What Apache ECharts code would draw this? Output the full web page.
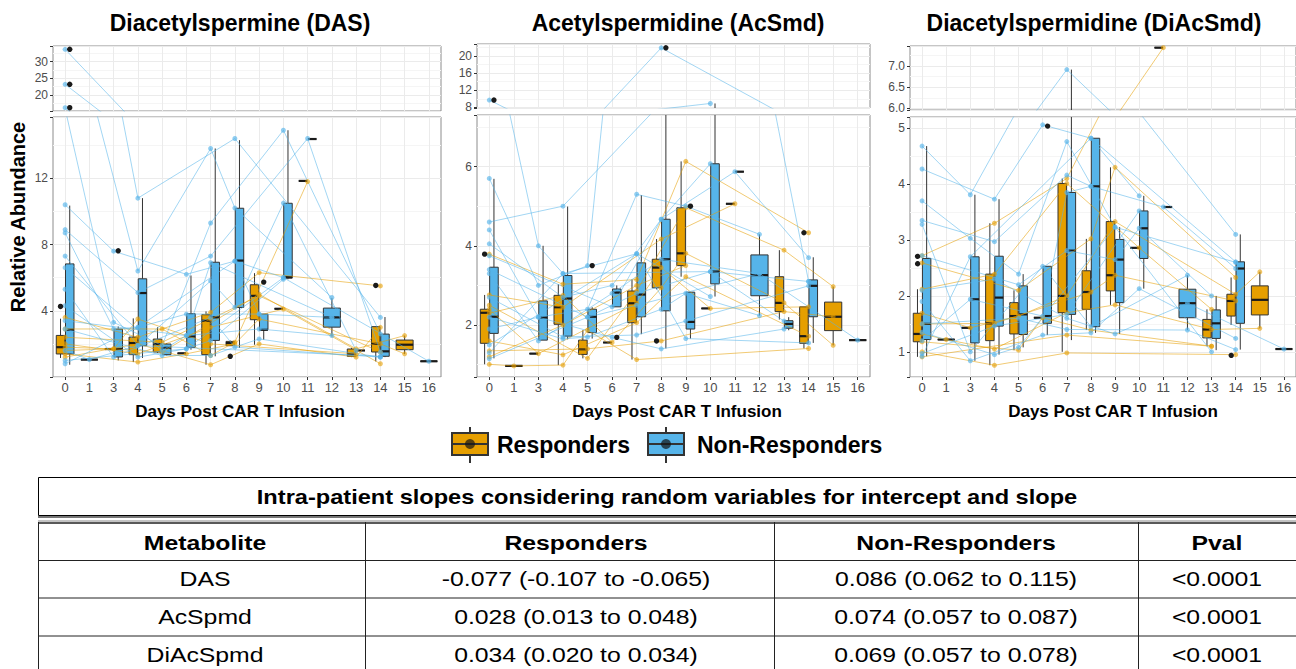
<!DOCTYPE html>
<html><head><meta charset="utf-8">
<script src="https://cdn.jsdelivr.net/npm/echarts@6/dist/echarts.min.js"></script>
<style>html,body{margin:0;padding:0;background:#fff}#c{width:1296px;height:669px}</style>
</head><body><div id="c"></div>
<script>
// ---------------- DATA ----------------
const days = ['0','1','3','4','5','6','7','8','9','10','11','12','13','14','15','16'];

// box stats: [day, min, q1, median, q3, max]  (single value: [day, v])
const dasRespBox = [
 [0,1.15,1.39,1.8,2.51,3.52],[3,1.69],[4,0.9,1.35,2.05,2.41,3.54],[5,1.45,1.51,1.99,2.29,3.0],[6,1.43],
 [7,0.74,1.35,3.4,3.76,3.96],[8,1.89,1.89,2.05,2.15,2.2],[9,1.95,3.46,4.9,5.57,6.27],[10,4.12],[11,11.84],
 [13,1.2,1.25,1.39,1.69,1.75],[14,0.94,1.51,2.01,3.04,3.04],[15,1.39,1.65,1.95,2.23,2.49]];
const dasNonBox = [
 [0,0.74,1.39,2.85,6.83,10.35],[1,1.05],[3,1.0,1.21,1.69,2.89,3.05],[4,1.15,1.89,5.07,5.93,10.8],
 [5,1.3,1.35,1.77,1.99,2.05],[6,1.65,1.79,2.45,3.82,6.13],[7,1.25,2.21,3.6,6.93,13.8],[8,1.75,4.2,7.03,10.19,14.3],
 [9,2.25,2.85,2.85,3.8,3.8],[10,5.9,5.97,6.03,10.49,14.9],[11,14.37],[12,2.45,3.01,3.6,4.16,4.76],[13,1.6],
 [14,1.2,1.25,1.55,2.59,3.62],[16,0.95]];
const dasRespOut = [[0,4.26],[8,1.25],[14,5.53]];
const dasNonOut = [[0,33.7],[0,23.2],[0,16.2],[3,7.62],[9,5.73]];
const dasRespPatients = [
 [[0,3.6],[4,2.4],[7,3.9],[9,6.3],[14,5.5]],
 [[0,2.9],[5,2.9],[7,1.3],[8,2.1],[11,11.8]],
 [[0,2.0],[4,1.4],[7,3.0],[10,4.1],[14,0.8]],
 [[0,1.6],[3,1.7],[5,1.5],[9,5.0],[13,1.7],[15,2.5]],
 [[0,1.4],[4,0.9],[6,1.4],[8,2.0],[9,3.5],[14,2.0],[15,1.4]],
 [[0,1.2],[4,2.0],[7,0.74],[9,2.0],[13,1.2],[14,3.0]],
 [[0,2.4],[5,2.1],[7,3.5],[9,4.9],[14,1.5]],
 [[0,1.8],[3,1.7],[4,3.5],[7,2.0],[13,1.4]]];
const dasNonPatients = [
 [[0,33.7],[4,10.8],[8,14.4],[14,3.6]],
 [[0,23.2],[4,6.4],[7,13.8],[8,10.2],[12,4.8]],
 [[0,16.2],[3,3.3],[5,1.9],[7,9.3],[10,14.9],[14,2.6]],
 [[0,10.4],[3,7.6],[6,6.2],[8,7.0],[10,6.0],[16,0.95]],
 [[0,8.9],[4,5.1],[7,7.3],[11,14.4],[14,1.5]],
 [[0,8.7],[3,2.9],[4,3.0],[6,3.8],[9,3.8],[12,3.6]],
 [[0,7.3],[4,1.9],[7,5.8],[8,4.2],[10,10.5],[13,1.6]],
 [[0,6.6],[5,1.6],[6,2.5],[9,2.9],[12,2.5]],
 [[0,5.3],[3,1.2],[7,3.6],[8,1.8],[14,1.2]],
 [[0,4.3],[4,1.2],[6,1.7],[7,2.2],[10,5.9]],
 [[0,2.9],[5,1.3],[7,1.3],[9,2.3],[14,1.2]],
 [[0,1.6],[1,1.05],[4,1.9],[14,1.25]],
 [[0,1.0],[6,1.7],[10,6.0]],
 [[0,0.8],[4,3.0],[8,7.0],[9,3.8]],
 [[0,3.4],[6,2.5],[7,6.9],[12,3.6]]];

const acsRespBox = [
 [0,1.01,1.54,2.31,2.4,2.76],[1,0.97],[3,1.28],[4,0.99,2.02,2.45,2.75,3.03],[5,1.16,1.26,1.39,1.62,1.87],[6,1.56],
 [7,1.13,2.06,2.55,2.86,3.15],[8,2.9,2.94,3.45,3.66,4.17],[9,3.22,3.5,3.81,4.96,6.13],[10,2.42],[11,5.06],
 [13,2.14,2.34,2.56,3.22,3.89],[14,1.41,1.54,1.72,2.46,2.46],[15,1.49,1.86,2.21,2.58,2.97]];
const acsNonBox = [
 [0,1.16,1.79,2.21,3.46,5.69],[3,1.62,1.62,2.19,2.61,4.0],[4,1.64,1.72,2.67,3.25,4.99],[5,1.66,1.81,2.21,2.4,2.45],
 [6,2.46,2.46,2.82,2.91,3.0],[7,1.77,2.21,2.77,3.57,5.28],[8,1.41,2.36,3.66,4.67,7.6],[9,1.66,1.9,2.08,2.83,2.83],
 [10,2.72,3.04,3.35,6.07,8.9],[11,5.87],[12,2.24,2.74,3.26,3.77,4.29],[13,1.87,1.92,2.03,2.11,2.2],
 [14,1.55,2.21,2.99,3.14,3.71],[16,1.62]];
const acsRespOut = [[0,3.79],[8,1.6],[14,4.33]];
const acsNonOut = [[0,9.7],[5,3.5],[6,1.69],[8,21.9],[9,5.0]];
const acsRespPatients = [
 [[0,3.79],[4,3.03],[7,3.15],[9,6.13],[14,4.33]],
 [[0,2.76],[4,2.45],[8,4.17],[11,5.06]],
 [[0,2.5],[5,1.16],[7,2.86],[9,4.96],[13,3.89],[15,2.97]],
 [[0,2.4],[3,1.28],[7,2.55],[8,3.45],[10,2.42],[14,2.46]],
 [[0,2.3],[4,2.75],[6,1.56],[8,2.94],[9,3.81],[13,2.56],[15,1.49]],
 [[0,1.6],[4,1.25],[7,2.06],[9,3.22],[14,1.72]],
 [[0,1.35],[5,1.4],[8,1.6],[13,2.34],[15,2.21]],
 [[0,1.01],[1,0.97],[4,0.99],[5,1.87],[7,1.13],[14,1.41]],
 [[0,1.2],[4,2.0],[7,3.0],[9,3.5]]];
const acsNonPatients = [
 [[0,9.7],[3,4.0],[4,3.3],[7,3.8],[10,2.72]],
 [[0,5.7],[3,3.0],[5,3.5],[8,21.9],[14,3.1]],
 [[0,4.6],[4,5.0],[10,8.9]],
 [[0,4.4],[3,2.2],[5,2.4],[7,5.3],[9,5.0],[12,4.29]],
 [[0,4.05],[4,2.7],[6,3.0],[8,4.67],[11,5.87],[14,3.7]],
 [[0,3.4],[5,2.2],[7,2.8],[10,3.35],[13,2.1]],
 [[0,3.3],[3,1.6],[6,2.8],[8,3.66],[12,3.3],[16,1.62]],
 [[0,2.7],[4,1.7],[7,1.75],[9,2.1],[14,2.99]],
 [[0,2.2],[4,1.65],[5,1.7],[8,2.4],[9,2.8],[12,2.24]],
 [[0,1.9],[3,2.2],[6,1.69],[8,1.4],[13,1.9]],
 [[0,1.5],[7,3.8],[9,1.66],[14,1.55]],
 [[0,1.3],[4,3.3],[10,3.35],[14,3.1]],
 [[0,1.15],[5,2.2],[7,2.5],[12,3.3]],
 [[0,3.75],[6,2.46],[8,4.67],[10,6.07]]];

const diaRespBox = [
 [0,0.91,1.18,1.32,1.69,2.12],[1,1.22],[3,1.43],[4,0.76,1.2,1.51,2.39,3.3],[5,1.03,1.32,1.64,1.88,2.1],[6,1.61],
 [7,1.0,1.7,2.0,4.01,4.1],[8,1.39,1.76,2.07,2.45,3.02],[9,1.84,2.09,2.37,3.33,4.3],[10,2.86],[11,7.44],
 [13,1.1,1.25,1.4,1.58,1.76],[14,1.48,1.64,1.91,2.03,2.33],[15,1.42,1.66,1.93,2.18,2.43]];
const diaNonBox = [
 [0,0.92,1.22,1.5,2.67,4.68],[3,0.84,1.16,1.94,2.7,3.81],[4,0.95,1.46,1.97,2.71,3.73],[5,1.08,1.31,1.67,2.18,2.39],
 [6,1.3,1.51,1.64,2.53,2.53],[7,1.21,1.67,2.81,3.85,6.92],[8,1.34,1.45,3.96,4.82,4.82],[9,1.32,1.88,2.65,3.01,3.23],
 [10,2.13,2.67,3.21,3.52,3.79],[11,3.59],[12,1.39,1.61,1.87,2.12,2.37],[13,1.03,1.24,1.51,1.75,2.0],
 [14,1.04,1.51,2.49,2.61,3.1],[16,1.05]];
const diaRespOut = [[0,2.72],[0,2.59],[14,0.95]];
const diaNonOut = [[6,5.06]];
const diaRespPatients = [
 [[0,2.72],[4,3.3],[7,4.1],[11,7.44]],
 [[0,2.59],[5,2.1],[8,3.02],[9,4.3],[14,2.33]],
 [[0,2.12],[4,2.39],[7,4.01],[10,2.86],[13,1.76]],
 [[0,1.69],[3,1.43],[5,1.64],[7,2.0],[9,3.33],[14,2.03],[15,2.43]],
 [[0,1.5],[4,1.51],[8,2.07],[9,2.37],[14,1.91]],
 [[0,1.32],[1,1.22],[4,1.05],[7,1.7],[9,1.84],[13,1.4],[15,1.42]],
 [[0,1.18],[5,1.03],[6,1.61],[8,1.39],[13,1.1]],
 [[0,1.0],[4,0.76],[7,0.98],[14,0.95]],
 [[0,0.91],[7,1.3],[13,1.1]]];
const diaNonPatients = [
 [[0,4.68],[3,3.81],[7,6.92],[14,3.1]],
 [[0,4.27],[4,3.73],[6,5.06],[8,4.82],[10,3.79]],
 [[0,3.7],[3,3.03],[5,2.39],[7,4.76],[9,3.23],[14,2.6]],
 [[0,3.35],[4,2.97],[7,4.16],[8,3.96],[11,3.59],[14,2.49]],
 [[0,3.28],[3,1.0],[6,2.53],[8,1.45],[12,2.37]],
 [[0,2.72],[5,2.2],[7,2.81],[9,2.65],[10,3.21],[13,2.0]],
 [[0,2.1],[4,2.3],[7,1.6],[9,1.32],[12,1.87],[16,1.05]],
 [[0,1.9],[3,0.84],[6,1.3],[8,1.34],[10,2.13],[14,1.24]],
 [[0,1.5],[5,1.6],[7,1.4],[12,1.39],[14,1.04]],
 [[0,1.35],[4,0.95],[5,1.08],[9,3.23],[13,1.0]],
 [[0,1.2],[3,1.94],[6,1.64],[7,3.85],[8,3.96]],
 [[0,0.97],[4,1.46],[7,1.67],[10,3.52]],
 [[0,0.92],[3,2.7],[8,4.82],[14,2.61]]];

// table
const tableTitle = 'Intra-patient slopes considering random variables for intercept and slope';
const tableHeaders = ['Metabolite','Responders','Non-Responders','Pval'];
const tableMetabolites = ['DAS','AcSpmd','DiAcSpmd'];
const tableResponders = ['-0.077 (-0.107 to -0.065)','0.028 (0.013 to 0.048)','0.034 (0.020 to 0.034)'];
const tableNonResponders = ['0.086 (0.062 to 0.115)','0.074 (0.057 to 0.087)','0.069 (0.057 to 0.078)'];
const tablePval = ['<0.0001','<0.0001','<0.0001'];

// ---------------- BUILD ----------------
const ORANGE = '#E69F00', BLUE = '#56B4E9';
const FONT = '"Liberation Sans", Arial, Helvetica, sans-serif';

const panels = [
 {title:'Diacetylspermine (DAS)', tx:240, xt:240, left:53, width:388, topTop:46, topH:65, mainTop:117, mainH:260,
  main:{min:0, max:15.7, step:4, dec:0}, top:{min:15.2, max:34.7, step:5, dec:0},
  rb:dasRespBox, nb:dasNonBox, ro:dasRespOut, no:dasNonOut, rp:dasRespPatients, np:dasNonPatients},
 {title:'Acetylspermidine (AcSmd)', tx:678, xt:677, left:477, width:393, topTop:44, topH:64, mainTop:115, mainH:262,
  main:{min:0.69, max:7.3, step:2, dec:0}, top:{min:7.84, max:22.8, step:4, dec:0},
  rb:acsRespBox, nb:acsNonBox, ro:acsRespOut, no:acsNonOut, rp:acsRespPatients, np:acsNonPatients},
 {title:'Diacetylspermidine (DiAcSmd)', tx:1094, xt:1113, left:910, width:386, topTop:46, topH:64, mainTop:117, mainH:260,
  main:{min:0.55, max:5.2, step:1, dec:0}, top:{min:5.96, max:7.48, step:0.5, dec:1},
  rb:diaRespBox, nb:diaNonBox, ro:diaRespOut, no:diaNonOut, rp:diaRespPatients, np:diaNonPatients}
];

const full = b => b.length === 2 ? [b[0], b[1], b[1], b[1], b[1], b[1]] : b;
const di = d => days.indexOf(String(d));

function boxRender(color, side) {
  return function (params, api) {
    const cs = params.coordSys, top = cs.y, bot = cs.y + cs.height;
    const idx = api.value(0), dodge = api.value(6);
    const band = api.size([1, 0])[0];
    const w = dodge ? band * 0.35 : band * 0.7;
    const cx = api.coord([idx, 1])[0] + (dodge ? side * band * 0.19 : 0);
    const Y = k => api.coord([idx, api.value(k)])[1];
    const cl = y => Math.min(Math.max(y, top), bot);
    const ch = [];
    const yMin = Y(1), yQ1 = Y(2), yMed = Y(3), yQ3 = Y(4), yMax = Y(5);
    const seg = (a, b) => { const A = cl(a), B = cl(b); if (Math.abs(A - B) > 0.01) ch.push({type:'line', shape:{x1:cx, y1:A, x2:cx, y2:B}, style:{stroke:'#333', lineWidth:1}}); };
    seg(yMax, yQ3); seg(yQ1, yMin);
    const r1 = cl(yQ3), r2 = cl(yQ1);
    if (yQ1 >= top && yQ3 <= bot) ch.push({type:'rect', shape:{x:cx - w / 2, y:r1, width:w, height:r2 - r1}, style:{fill:color, stroke:'#333', lineWidth:1}});
    if (yMed >= top && yMed <= bot) ch.push({type:'line', shape:{x1:cx - w / 2, y1:yMed, x2:cx + w / 2, y2:yMed}, style:{stroke:'#1a1a1a', lineWidth:2.2}});
    return {type:'group', children:ch};
  };
}
function outRender(side) {
  return function (params, api) {
    const cs = params.coordSys;
    const band = api.size([1, 0])[0];
    const p = api.coord([api.value(0), api.value(1)]);
    if (p[1] < cs.y - 1 || p[1] > cs.y + cs.height + 1) return null;
    const x = p[0] + (api.value(2) ? side * band * 0.19 : 0);
    return {type:'circle', shape:{cx:x, cy:p[1], r:2.7}, style:{fill:'#1a1a1a'}};
  };
}

const grid = [], xAxis = [], yAxis = [], series = [];
panels.forEach(P => {
  const rDays = new Set(P.rb.map(b => b[0])), nDays = new Set(P.nb.map(b => b[0]));
  const parts = [
    {kind:'top', t:P.topTop, h:P.topH, ax:P.top},
    {kind:'main', t:P.mainTop, h:P.mainH, ax:P.main}
  ];
  parts.forEach(part => {
    const gi = grid.length, isMain = part.kind === 'main', ax = part.ax;
    grid.push({left:P.left, top:part.t, width:P.width, height:part.h, show:true, borderColor:'#8c8c8c', borderWidth:1,
      backgroundColor:'#ffffff', outerBoundsMode:'none'});
    xAxis.push({gridIndex:gi, type:'category', data:days, boundaryGap:true,
      axisLine:{show:false},
      axisTick:{show:isMain, alignWithLabel:true, interval:0, length:3, lineStyle:{color:'#333'}},
      axisLabel:{show:isMain, interval:0, color:'#4d4d4d', fontSize:13, margin:4, fontFamily:FONT},
      splitLine:{show:true, alignWithLabel:true, interval:0, lineStyle:{color:'#ebebeb', width:1}}});
    yAxis.push({gridIndex:gi, type:'value', min:ax.min, max:ax.max, minInterval:ax.step, maxInterval:ax.step, splitNumber:3,
      axisLine:{show:false},
      axisTick:{show:true, length:3, lineStyle:{color:'#333'}},
      axisLabel:{color:'#4d4d4d', fontSize:12, margin:5, fontFamily:FONT,
        formatter: v => {
          if (v <= ax.min + 1e-9 || v >= ax.max - 1e-9) return '';
          const k = v / ax.step;
          return Math.abs(k - Math.round(k)) > 1e-6 ? '' : (ax.dec ? v.toFixed(ax.dec) : String(Math.round(v)));
        }},
      splitLine:{show:true, lineStyle:{color:'#ebebeb', width:1}},
      minorTick:{show:false, splitNumber:2},
      minorSplitLine:{show:true, lineStyle:{color:'#f5f5f5', width:1}}});

    // boxes
    [[P.rb, nDays, ORANGE, -1], [P.nb, rDays, BLUE, 1]].forEach(([boxes, other, col, side]) => {
      series.push({type:'custom', xAxisIndex:gi, yAxisIndex:gi, z:2, silent:true, clip:true,
        encode:{x:0, y:3},
        data: boxes.map(b => { const f = full(b); return [di(f[0]), f[1], f[2], f[3], f[4], f[5], other.has(f[0]) ? 1 : 0]; }),
        renderItem: boxRender(col, side)});
    });
    // patient lines + points
    const limit = isMain ? -Infinity : ax.min;
    [[P.rp, 'rgba(230,159,0,0.55)', 'rgba(230,159,0,0.6)'], [P.np, 'rgba(86,180,233,0.55)', 'rgba(86,180,233,0.65)']].forEach(([pats, lc, pc]) => {
      pats.forEach(pt => {
        if (Math.max(...pt.map(q => q[1])) < limit) return;
        series.push({type:'line', xAxisIndex:gi, yAxisIndex:gi, z:3, silent:true, clip:true,
          data: pt.map(q => [di(q[0]), q[1]]),
          symbol:'circle', symbolSize:5, showSymbol:true,
          lineStyle:{color:lc, width:1}, itemStyle:{color:pc, borderWidth:0}});
      });
    });
    // outliers
    [[P.ro, nDays, -1], [P.no, rDays, 1]].forEach(([outs, other, side]) => {
      series.push({type:'custom', xAxisIndex:gi, yAxisIndex:gi, z:4, silent:true, clip:true,
        encode:{x:0, y:1},
        data: outs.map(o => [di(o[0]), o[1], other.has(o[0]) ? 1 : 0]),
        renderItem: outRender(side)});
    });
  });
});

// ---------------- GRAPHIC TEXT / LEGEND / TABLE ----------------
const g = [];
panels.forEach(P => {
  g.push({type:'text', x:P.tx, y:23, style:{text:P.title, font:'bold 23px ' + FONT, fill:'#000', align:'center', verticalAlign:'middle'}});
  g.push({type:'text', x:P.xt, y:411, style:{text:'Days Post CAR T Infusion', font:'bold 17px ' + FONT, fill:'#000', align:'center', verticalAlign:'middle'}});
});
g.push({type:'text', x:18, y:217, rotation:Math.PI / 2, style:{text:'Relative Abundance', font:'bold 20px ' + FONT, fill:'#000', align:'center', verticalAlign:'middle'}});

// legend
function legendGlyph(x0, color) {
  const cx = x0 + 18;
  g.push({type:'line', shape:{x1:cx, y1:427, x2:cx, y2:463}, style:{stroke:'#333', lineWidth:2}});
  g.push({type:'rect', shape:{x:x0, y:433, width:36, height:22}, style:{fill:color, stroke:'#333', lineWidth:2}});
  g.push({type:'line', shape:{x1:x0, y1:444, x2:x0 + 36, y2:444}, style:{stroke:'#333', lineWidth:2}});
  g.push({type:'circle', shape:{cx:cx, cy:444, r:5}, style:{fill:'rgba(20,20,20,0.7)'}});
}
legendGlyph(452, ORANGE);
g.push({type:'text', x:497, y:445, style:{text:'Responders', font:'bold 23px ' + FONT, fill:'#000', align:'left', verticalAlign:'middle'}});
legendGlyph(648, BLUE);
g.push({type:'text', x:697, y:445, style:{text:'Non-Responders', font:'bold 23px ' + FONT, fill:'#000', align:'left', verticalAlign:'middle'}});

// table
const SX = 1.18;
g.push({type:'rect', shape:{x:38.5, y:477.5, width:1300, height:38}, style:{fill:'none', stroke:'#000', lineWidth:1}});
g.push({type:'line', shape:{x1:38, y1:517, x2:1300, y2:517}, style:{stroke:'#777', lineWidth:2}});
g.push({type:'text', x:667, y:497, scaleX:SX, style:{text:tableTitle, font:'bold 20px ' + FONT, fill:'#000', align:'center', verticalAlign:'middle'}});
g.push({type:'line', shape:{x1:38, y1:521, x2:1300, y2:521}, style:{stroke:'#888', lineWidth:1}});
g.push({type:'line', shape:{x1:38, y1:523, x2:1300, y2:523}, style:{stroke:'#222', lineWidth:1.5}});
[560.5, 598, 636].forEach(y => g.push({type:'line', shape:{x1:38, y1:y, x2:1300, y2:y}, style:{stroke:'#222', lineWidth:1}}));
[38.5, 365.5, 774.5, 1138.5].forEach(x => g.push({type:'line', shape:{x1:x, y1:522, x2:x, y2:672}, style:{stroke:'#222', lineWidth:1}}));
const colX = [205, 576, 956, 1217];
const rowY = [543, 579, 617, 655];
tableHeaders.forEach((h, i) => g.push({type:'text', x:colX[i], y:rowY[0], scaleX:SX, style:{text:h, font:'bold 21px ' + FONT, fill:'#000', align:'center', verticalAlign:'middle'}}));
tableMetabolites.forEach((m, r) => {
  [m, tableResponders[r], tableNonResponders[r], tablePval[r]].forEach((t, i) =>
    g.push({type:'text', x:colX[i], y:rowY[r + 1], scaleX:SX, style:{text:t, font:'21px ' + FONT, fill:'#000', align:'center', verticalAlign:'middle'}}));
});

const chart = echarts.init(document.getElementById('c'), null, {renderer:'svg'});
chart.setOption({
  animation:false,
  backgroundColor:'#ffffff',
  textStyle:{fontFamily:FONT},
  grid, xAxis, yAxis, series,
  graphic:{elements:g}
});
</script>
</body></html>
